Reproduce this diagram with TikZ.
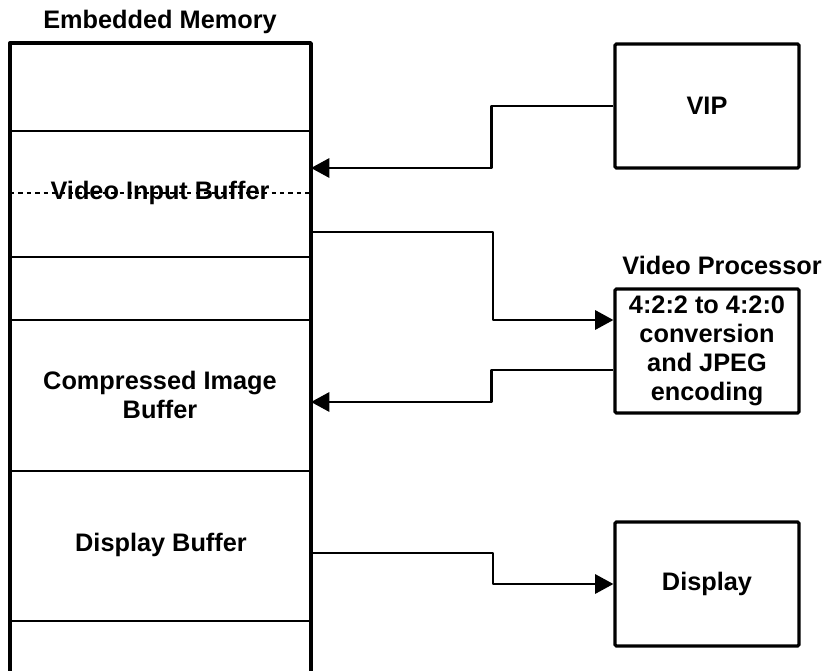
\documentclass[tikz,border=0pt]{standalone}
\usepackage{fontspec}
\setmainfont{Liberation Sans}
\usepackage{tikz}
\usetikzlibrary{shapes,arrows.meta,positioning,calc}

\begin{document}
\begin{tikzpicture}[x=0.025cm,y=-0.025cm,
    font=\fontsize{18}{20.5}\selectfont\bfseries,
    block/.style={draw,line width=2.2pt,rounded corners=1pt,minimum width=4.6cm,minimum height=3.1cm,align=center,inner sep=2pt},
    flow/.style={line width=2pt,line join=round,-{Triangle[length=4.6mm,width=4.8mm]}},
    divider/.style={line width=1pt}]
    \useasboundingbox (0,0) rectangle (840,670);

    % Embedded memory column
    \node (memtitle) at (160,22) {Embedded Memory};
    \draw[line width=2.4pt,line join=round] (10,680) -- (10,43) -- (311,43) -- (311,680);
    \foreach \y in {131,257,320,471,621}
        \draw[divider] (10,\y) -- (311,\y);
    \draw[dashed,line width=0.8pt] (10,193) -- (311,193);
    \node (vib) at (160,193) {Video Input Buffer};
    \node[align=center] (cib) at (160,395) {Compressed Image\\Buffer};
    \node (db) at (161,545) {Display Buffer};

    % Ports on the memory edge
    \coordinate (vibin) at (311,168);
    \coordinate (vibout) at (311,232);
    \coordinate (cibin) at (311,402);
    \coordinate (dbout) at (311,553);

    % Blocks
    \node[block] (vip) at (707,106) {VIP};
    \node[block] (vp) at (707,351) {4:2:2 to 4:2:0\\conversion\\and JPEG\\encoding};
    \node (vptitle) at (722,265) {Video Processor};
    \node[block] (disp) at (707,584) {Display};

    % Data paths
    \draw[flow] (vip.west) -- ++(-122,0) |- (vibin);
    \draw[flow] (vibout) -- ++(182,0) |- ($(vp.west)+(0,-31)$);
    \draw[flow] ($(vp.west)+(0,19)$) -- ++(-122,0) |- (cibin);
    \draw[flow] (dbout) -- ++(182,0) |- (disp.west);
\end{tikzpicture}
\end{document}
